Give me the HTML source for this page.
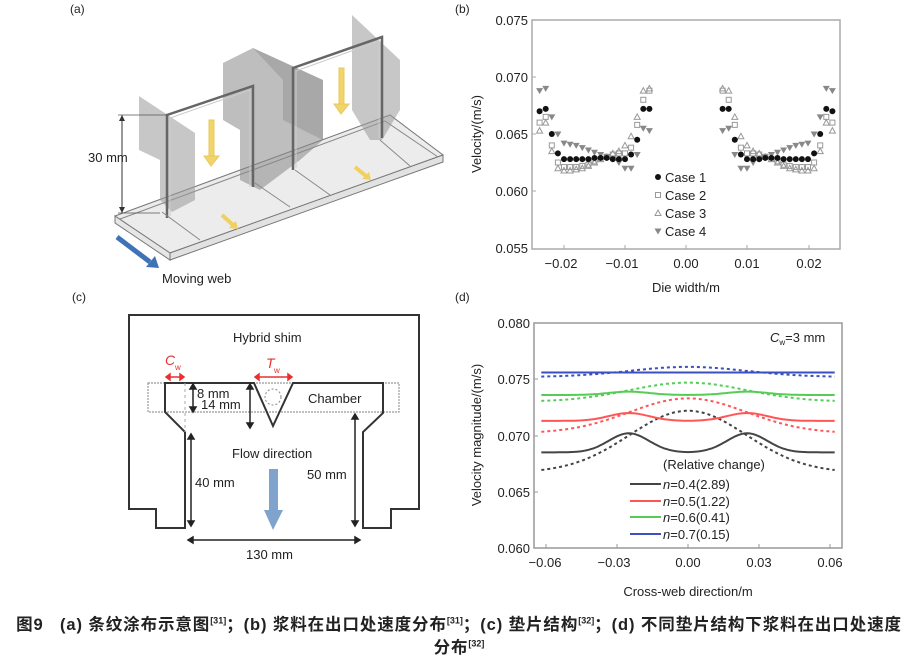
<!DOCTYPE html>
<html><head><meta charset="utf-8"><style>
body{margin:0;background:#fff;width:918px;height:658px;overflow:hidden;font-family:"Liberation Sans","Noto Sans CJK SC",sans-serif}
svg text{font-family:"Liberation Sans","Noto Sans CJK SC",sans-serif}
.cap{position:absolute;left:0;width:918px;text-align:center;font-size:16.5px;letter-spacing:0.9px;color:#222;font-weight:bold;font-family:"Liberation Sans","Noto Sans CJK SC",sans-serif;white-space:nowrap}
sup{font-size:9px;letter-spacing:0}
</style></head><body>
<svg id="s" width="918" height="658" style="position:absolute;left:0;top:0" xmlns="http://www.w3.org/2000/svg">
<g font-size="12" fill="#222">
<text x="70" y="13">(a)</text><text x="455" y="13">(b)</text>
<text x="72" y="301">(c)</text><text x="455" y="301">(d)</text>
</g>
<g>
<polygon points="115,216 390,115 443,155 170,253" fill="#ececec" stroke="#777" stroke-width="1"/>
<polygon points="170,253 443,155 443,162 170,260" fill="#e2e2e2" stroke="#777" stroke-width="1"/>
<polygon points="115,216 170,253 170,260 115,223" fill="#e6e6e6" stroke="#777" stroke-width="1"/>
<polyline points="120,219 385,121 438,157" fill="none" stroke="#888"/>
<polygon points="139,96 195,133 195,200 172,212 160,200 160,160 139,150" fill="#999" opacity="0.55"/>
<polygon points="223,63 253,48 323,80 323,140 300,160 260,190 240,180 240,130 223,120" fill="#888" opacity="0.55"/>
<polygon points="253,48 323,80 323,140 283,120 283,80" fill="#777" opacity="0.3"/>
<polygon points="352,15 400,60 400,110 382,140 370,140 352,110" fill="#999" opacity="0.55"/>
<polyline points="167,218 167,115 253,86 253,187" fill="none" stroke="#666" stroke-width="2.5"/>
<polyline points="170,216 170,118 250,90 250,187" fill="none" stroke="#ccc" stroke-width="1"/>
<polyline points="293,170 293,68 382,37 382,138" fill="none" stroke="#666" stroke-width="2.5"/>
<polyline points="296,168 296,71 379,41 379,138" fill="none" stroke="#ccc" stroke-width="1"/>
<line x1="200" y1="240" x2="162" y2="212" stroke="#888"/>
<line x1="290" y1="207" x2="255" y2="183" stroke="#888"/>
<line x1="330" y1="195" x2="295" y2="170" stroke="#888"/>
<line x1="410" y1="166" x2="380" y2="140" stroke="#888"/>
<g stroke="#e8c860" fill="#f2d56a">
<rect x="209" y="120" width="5" height="38"/><polygon points="204,156 219,156 211,166"/>
<rect x="339" y="68" width="5" height="38"/><polygon points="334,104 349,104 341,114"/>
</g>
<line x1="222" y1="215" x2="233" y2="225" stroke="#f0d060" stroke-width="4"/><polygon points="229,228 238,229 236,221" fill="#f0d060"/>
<line x1="355" y1="167" x2="366" y2="176" stroke="#f0d060" stroke-width="4"/><polygon points="362,179 371,180 369,172" fill="#f0d060"/>
<line x1="117" y1="237" x2="150" y2="262" stroke="#3f73b8" stroke-width="5"/>
<polygon points="146,267 159,268 155,256" fill="#3f73b8"/>
<line x1="122" y1="115" x2="122" y2="213" stroke="#333" stroke-width="1"/>
<line x1="118" y1="115" x2="167" y2="115" stroke="#555" stroke-width="0.8"/>
<line x1="118" y1="213" x2="160" y2="213" stroke="#555" stroke-width="0.8"/>
<polygon points="122,115 119,121 125,121" fill="#333"/><polygon points="122,213 119,207 125,207" fill="#333"/>
<text x="88" y="162" font-size="13" fill="#222">30 mm</text>
<text x="162" y="283" font-size="13" fill="#222">Moving web</text>
</g>
<g id="pb">
<rect x="532" y="20" width="308" height="229" fill="none" stroke="#aaa" stroke-width="1.5"/>
<g font-size="13" fill="#222" text-anchor="end">
<text x="528" y="25">0.075</text><text x="528" y="82">0.070</text><text x="528" y="139">0.065</text><text x="528" y="196">0.060</text><text x="528" y="253">0.055</text>
</g>
<g stroke="#aaa"><line x1="532" y1="77" x2="536" y2="77"/><line x1="532" y1="134" x2="536" y2="134"/><line x1="532" y1="191" x2="536" y2="191"/>
<line x1="564" y1="249" x2="564" y2="245"/><line x1="625" y1="249" x2="625" y2="245"/><line x1="686" y1="249" x2="686" y2="245"/><line x1="747" y1="249" x2="747" y2="245"/><line x1="809" y1="249" x2="809" y2="245"/></g>
<g font-size="13" fill="#222" text-anchor="middle">
<text x="561" y="268">−0.02</text><text x="622" y="268">−0.01</text><text x="686" y="268">0.00</text><text x="747" y="268">0.01</text><text x="809" y="268">0.02</text>
<text x="686" y="292">Die width/m</text>
<text transform="translate(481,134) rotate(-90)">Velocity/(m/s)</text>
</g>
<g font-size="13" fill="#222">
<text x="665" y="182">Case 1</text><text x="665" y="200">Case 2</text><text x="665" y="218">Case 3</text><text x="665" y="236">Case 4</text>
</g>
</g>
<g>
<polygon points="148,383 399,383 399,412 148,412" fill="none" stroke="#999" stroke-width="1.2" stroke-dasharray="2,1"/>
<polygon points="129,315 419,315 419,509 391,509 391,528 363,528 363,432 383,413 383,383 293,383 273,426 254,383 165,383 165,412 185,432 185,528 156,528 156,509 129,509" fill="none" stroke="#333" stroke-width="2"/>
<line x1="185" y1="383" x2="185" y2="432" stroke="#aaa" stroke-dasharray="3,3"/>
<circle cx="273" cy="397" r="8" fill="none" stroke="#888" stroke-dasharray="2,2"/>
<g font-size="13" fill="#222">
<text x="233" y="342">Hybrid shim</text>
<text x="308" y="403">Chamber</text>
<text x="232" y="458">Flow direction</text>
<text x="195" y="487">40 mm</text>
<text x="307" y="479">50 mm</text>
<text x="246" y="559">130 mm</text>
<text x="197" y="398">8 mm</text>
<text x="201" y="409">14 mm</text>
</g>
<g fill="#e83030" font-size="14" font-style="italic"><text x="165" y="365">C</text><text x="266" y="368">T</text></g>
<g fill="#e83030" font-size="8"><text x="175" y="370">w</text><text x="274" y="373">w</text></g>
<g stroke="#e83030" stroke-width="1.5" fill="#e83030">
<line x1="168" y1="377" x2="182" y2="377"/><polygon points="166,377 170,374 170,380"/><polygon points="184,377 180,374 180,380"/>
<line x1="257" y1="377" x2="290" y2="377"/><polygon points="255,377 259,374 259,380"/><polygon points="292,377 288,374 288,380"/>
</g>
<g stroke="#222" stroke-width="1.5" fill="#222">
<line x1="193" y1="386" x2="193" y2="410"/><polygon points="193,384 190,389 196,389"/><polygon points="193,412 190,407 196,407"/>
<line x1="250" y1="386" x2="250" y2="426"/><polygon points="250,384 247,389 253,389"/><polygon points="250,428 247,423 253,423"/>
<line x1="191" y1="436" x2="191" y2="524"/><polygon points="191,434 188,439 194,439"/><polygon points="191,526 188,521 194,521"/>
<line x1="355" y1="416" x2="355" y2="524"/><polygon points="355,414 352,419 358,419"/><polygon points="355,526 352,521 358,521"/>
<line x1="190" y1="540" x2="358" y2="540"/><polygon points="188,540 193,537 193,543"/><polygon points="360,540 355,537 355,543"/>
</g>
<rect x="269" y="469" width="9" height="43" fill="#7fa3cc"/><polygon points="264,510 283,510 273,530" fill="#7fa3cc"/>
</g>
<g id="pd">
<rect x="534" y="323" width="308" height="225" fill="none" stroke="#999" stroke-width="1.5"/>
<g font-size="13" fill="#222" text-anchor="end">
<text x="530" y="328">0.080</text><text x="530" y="384">0.075</text><text x="530" y="441">0.070</text><text x="530" y="497">0.065</text><text x="530" y="553">0.060</text>
</g>
<g stroke="#999"><line x1="534" y1="379" x2="538" y2="379"/><line x1="534" y1="436" x2="538" y2="436"/><line x1="534" y1="492" x2="538" y2="492"/>
<line x1="546" y1="548" x2="546" y2="544"/><line x1="617" y1="548" x2="617" y2="544"/><line x1="688" y1="548" x2="688" y2="544"/><line x1="759" y1="548" x2="759" y2="544"/><line x1="830" y1="548" x2="830" y2="544"/></g>
<g font-size="13" fill="#222" text-anchor="middle">
<text x="545" y="567">−0.06</text><text x="614" y="567">−0.03</text><text x="688" y="567">0.00</text><text x="759" y="567">0.03</text><text x="830" y="567">0.06</text>
<text x="688" y="596">Cross-web direction/m</text>
<text transform="translate(481,435) rotate(-90)">Velocity magnitude/(m/s)</text>
</g>
<text x="770" y="342" font-size="13" fill="#222"><tspan font-style="italic">C</tspan><tspan font-size="8" dy="3">w</tspan><tspan dy="-3">=3 mm</tspan></text>
<text x="663" y="469" font-size="13" fill="#222">(Relative change)</text>
<g stroke-width="2"><line x1="630" y1="484" x2="661" y2="484" stroke="#444"/><line x1="630" y1="501" x2="661" y2="501" stroke="#f55"/><line x1="630" y1="517" x2="661" y2="517" stroke="#5c5"/><line x1="630" y1="534" x2="661" y2="534" stroke="#3a4fc0"/></g>
<g font-size="13" fill="#222">
<text x="663" y="489"><tspan font-style="italic">n</tspan>=0.4(2.89)</text>
<text x="663" y="506"><tspan font-style="italic">n</tspan>=0.5(1.22)</text>
<text x="663" y="522"><tspan font-style="italic">n</tspan>=0.6(0.41)</text>
<text x="663" y="539"><tspan font-style="italic">n</tspan>=0.7(0.15)</text>
</g>
</g>
</svg>
<div class="cap" style="top:611px">图9&nbsp;&nbsp; (a) 条纹涂布示意图<sup>[31]</sup>；(b) 浆料在出口处速度分布<sup>[31]</sup>；(c) 垫片结构<sup>[32]</sup>；(d) 不同垫片结构下浆料在出口处速度</div>
<div class="cap" style="top:634px">分布<sup>[32]</sup></div>
<script>
var NS="http://www.w3.org/2000/svg",s=document.getElementById('s');
function el(t,a){var e=document.createElementNS(NS,t);for(var k in a)e.setAttribute(k,a[k]);s.appendChild(e);return e;}
function bx(v){return 686+v*6100}function by(v){return 20+(0.075-v)*11400}
var xs=[];for(var i=24;i>=6;i--)xs.push(-i/1000);
var c1=[.067,.0672,.065,.0633,.0628,.0628,.0628,.0628,.0628,.0629,.0629,.0629,.0628,.0628,.0628,.0632,.0645,.0672,.0672];
var c2=[.066,.0665,.064,.0625,.0621,.0621,.0621,.0622,.0623,.0626,.0628,.063,.0632,.0633,.0633,.0638,.0658,.068,.0688];
var c3=[.0653,.066,.0635,.062,.0618,.0618,.0619,.062,.0622,.0625,.0628,.063,.0633,.0635,.064,.0648,.0665,.0688,.069];
var c4=[.0688,.069,.0665,.065,.0642,.0641,.064,.0638,.0636,.0634,.0632,.063,.0628,.0625,.062,.062,.0632,.0655,.0653];
function mk(t,x,y){
 if(t==1)el('circle',{cx:x,cy:y,r:3,fill:'#111'});
 if(t==2)el('rect',{x:x-2.5,y:y-2.5,width:5,height:5,fill:'none',stroke:'#999'});
 if(t==3)el('polygon',{points:(x-3)+','+(y+2.5)+' '+(x+3)+','+(y+2.5)+' '+x+','+(y-3),fill:'none',stroke:'#999'});
 if(t==4)el('polygon',{points:(x-3.5)+','+(y-2.5)+' '+(x+3.5)+','+(y-2.5)+' '+x+','+(y+3.5),fill:'#888'});
}
[[c2,2],[c3,3],[c4,4],[c1,1]].forEach(function(p){p[0].forEach(function(v,i){mk(p[1],bx(xs[i]),by(v));mk(p[1],bx(-xs[i]),by(v));});});
mk(1,658,177);mk(2,658,195);mk(3,658,213);mk(4,658,231);
function dx(v){return 688+v*142/0.06}function dy(v){return 323+(0.080-v)*11250}
function bump(x,w){var a=(Math.abs(x)-0.025)/w;return Math.exp(-a*a)}
function g(x,w){return Math.exp(-(x/w)*(x/w))}
var cur=[
 ['#444',function(x){return .0685+.0017*bump(x,.012)},function(x){return .0667+.0055*g(x,.035)}],
 ['#f55',function(x){return .0713+.0007*bump(x,.012)},function(x){return .0702+.0031*g(x,.035)}],
 ['#5c5',function(x){return .0736+.0003*bump(x,.012)},function(x){return .0730+.0017*g(x,.035)}],
 ['#3a4fc0',function(x){return .0756},function(x){return .0752+.0009*g(x,.035)}]];
cur.forEach(function(c){
 var p1='',p2='';for(var x=-0.062;x<=0.0621;x+=0.001){p1+=dx(x).toFixed(1)+','+dy(c[1](x)).toFixed(1)+' ';p2+=dx(x).toFixed(1)+','+dy(c[2](x)).toFixed(1)+' ';}
 el('polyline',{points:p2,fill:'none',stroke:c[0],'stroke-width':2,'stroke-dasharray':'3,3'});
 el('polyline',{points:p1,fill:'none',stroke:c[0],'stroke-width':2});
});
</script>
</body></html>
